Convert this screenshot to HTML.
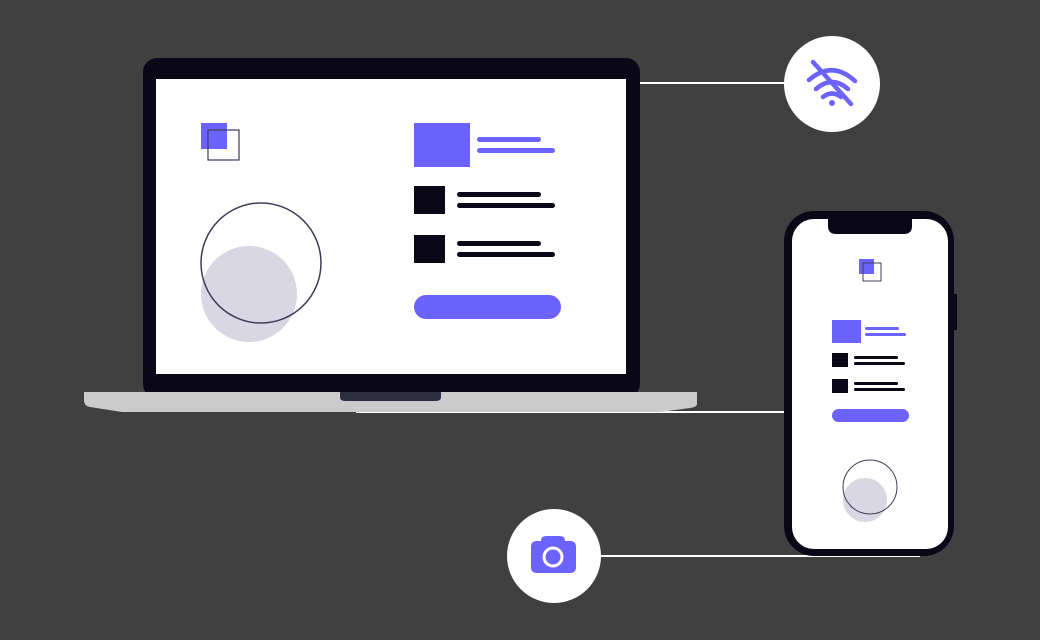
<!DOCTYPE html>
<html><head><style>html,body{margin:0;padding:0;background:#404040;}svg{display:block}</style></head>
<body>
<svg width="1040" height="640" viewBox="0 0 1040 640" xmlns="http://www.w3.org/2000/svg">
<rect width="1040" height="640" fill="#404040"/>
<!-- connector lines -->
<line x1="640" y1="83" x2="786" y2="83" stroke="#fff" stroke-width="2"/>
<line x1="356" y1="412" x2="786" y2="412" stroke="#fff" stroke-width="2"/>
<line x1="600" y1="556" x2="920" y2="556" stroke="#fff" stroke-width="2"/>
<!-- laptop -->
<rect x="143" y="58" width="497" height="340" rx="14" fill="#0a0816"/>
<rect x="156" y="79" width="470" height="295" fill="#fff"/>
<path d="M84 392 H697 V404 Q697 407 690 408 L660 412 H122 L90 407 Q84 406 84 400 Z" fill="#cbcbcb"/>
<path d="M340 392 H441 V397 Q441 401 436 401 H345 Q340 401 340 397 Z" fill="#2f2e41"/>
<!-- laptop screen content -->
<rect x="201" y="123" width="26" height="26" fill="#6c63ff"/>
<rect x="208" y="130" width="31" height="30" fill="none" stroke="#3f3d56" stroke-width="1.2"/>
<circle cx="249" cy="294" r="48" fill="#d8d7e3"/>
<circle cx="261" cy="263" r="60" fill="none" stroke="#3f3d56" stroke-width="1.5"/>
<rect x="414" y="123" width="56" height="44" fill="#6c63ff"/>
<rect x="477" y="137" width="64" height="5" rx="2.5" fill="#6c63ff"/>
<rect x="477" y="148" width="78" height="5" rx="2.5" fill="#6c63ff"/>
<rect x="414" y="186" width="31" height="28" fill="#0a0816"/>
<rect x="457" y="192" width="84" height="5" rx="2.5" fill="#0a0816"/>
<rect x="457" y="203" width="98" height="5" rx="2.5" fill="#0a0816"/>
<rect x="414" y="235" width="31" height="28" fill="#0a0816"/>
<rect x="457" y="241" width="84" height="5" rx="2.5" fill="#0a0816"/>
<rect x="457" y="252" width="98" height="5" rx="2.5" fill="#0a0816"/>
<rect x="414" y="295" width="147" height="24" rx="12" fill="#6c63ff"/>
<!-- phone -->
<rect x="953" y="294" width="4" height="36" fill="#0a0816"/>
<rect x="784" y="211" width="170" height="345" rx="30" fill="#0a0816"/>
<rect x="792" y="219" width="156" height="330" rx="22" fill="#fff"/>
<path d="M828 211 H912 V226 Q912 234 904 234 H836 Q828 234 828 226 Z" fill="#0a0816"/>
<rect x="859" y="259" width="15" height="15" fill="#6c63ff"/>
<rect x="863" y="263" width="18" height="18" fill="none" stroke="#3f3d56" stroke-width="1"/>
<rect x="832" y="320" width="29" height="23" fill="#6c63ff"/>
<rect x="865" y="327" width="34" height="3" rx="1.5" fill="#6c63ff"/>
<rect x="865" y="333" width="41" height="3" rx="1.5" fill="#6c63ff"/>
<rect x="832" y="353" width="16" height="14" fill="#0a0816"/>
<rect x="854" y="356" width="44" height="3" rx="1.5" fill="#0a0816"/>
<rect x="854" y="362" width="51" height="3" rx="1.5" fill="#0a0816"/>
<rect x="832" y="379" width="16" height="14" fill="#0a0816"/>
<rect x="854" y="382" width="44" height="3" rx="1.5" fill="#0a0816"/>
<rect x="854" y="388" width="51" height="3" rx="1.5" fill="#0a0816"/>
<rect x="832" y="409" width="77" height="13" rx="6.5" fill="#6c63ff"/>
<circle cx="865" cy="500" r="22" fill="#d8d7e3"/>
<circle cx="870" cy="487" r="27" fill="none" stroke="#3f3d56" stroke-width="1"/>
<!-- wifi circle -->
<circle cx="832" cy="84" r="48" fill="#fff"/>
<g fill="none" stroke="#6c63ff" stroke-width="4.5" stroke-linecap="round">
<path d="M809 80 Q832 60 855 81"/>
<path d="M816 89 Q832 75 848 89"/>
<path d="M823 97 Q832 90 841 97"/>
<line x1="813" y1="62" x2="851" y2="104"/>
</g>
<circle cx="832" cy="103" r="3" fill="#6c63ff"/>
<!-- camera circle -->
<circle cx="554" cy="556" r="47" fill="#fff"/>
<path d="M541 541 Q541 536 546 536 H560 Q565 536 565 541 H570 Q576 541 576 547 V567 Q576 573 570 573 H537 Q531 573 531 567 V547 Q531 541 537 541 Z" fill="#6c63ff"/>
<circle cx="553" cy="557" r="9" fill="none" stroke="#fff" stroke-width="3"/>
</svg>
</body></html>
